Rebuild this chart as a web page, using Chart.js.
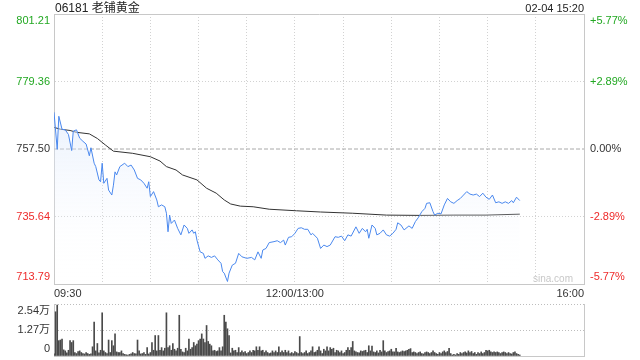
<!DOCTYPE html>
<html><head><meta charset="utf-8">
<script src="https://cdn.jsdelivr.net/npm/chart.js@4.4.1/dist/chart.umd.min.js"></script>
<style>
html,body{margin:0;padding:0;background:#fff;width:640px;height:360px;overflow:hidden;}
#wrap{position:relative;width:640px;height:360px;font-family:"Liberation Sans",Arial,"Noto Sans CJK SC",sans-serif;}
#c1{position:absolute;left:0;top:0;}
#c2{position:absolute;left:0;top:296px;}
.t{position:absolute;white-space:nowrap;color:#222;line-height:14px;}
</style></head><body>
<div id="wrap">
<canvas id="c1" width="640" height="300"></canvas>
<canvas id="c2" width="640" height="64"></canvas>
<div class="t" style="left:55px;top:1px;font-size:12px;">06181 老铺黄金</div>
<div class="t" style="right:56px;top:1px;font-size:11px;">02-04 15:20</div>
<div class="t" style="left:533px;top:272px;font-size:10px;color:#c8c8c8;">sina.com</div>
</div>
<script>
// ---- data ----
const preClose = 757.50;
const yMin = 713.79, yMax = 801.21;
const yTickValues = [713.79, 735.64, 757.50, 779.36, 801.21];
const yTickLabels = ['713.79', '735.64', '757.50', '779.36', '801.21'];
const pctTickLabels = ['-5.77%', '-2.89%', '0.00%', '+2.89%', '+5.77%'];
const tickColors = ['#ee2a2a', '#ee2a2a', '#333333', '#22a822', '#22a822'];

const xGridMinutes = [0, 30, 60, 90, 120, 150, 180, 210, 240, 270, 300, 330];
const xLabelMinutes = [0, 150, 330];
const xLabelTexts = ['09:30', '12:00/13:00', '16:00'];

const priceMinutes = [0,2,3,5,7,9,11,12,14,16,18,20,22,23,25,26,28,29,30,31,33,34,36,37,38,39,41,44,46,48,50,52,54,56,58,59,60,62,64,65,67,69,70,71,72,73,75,77,79,81,83,84,86,87,88,89,91,93,94,96,98,100,102,104,105,106,108,109,111,113,115,117,120,123,125,127,129,130,132,134,137,139,141,143,144,146,148,150,152,154,156,158,160,161,164,166,168,170,172,175,177,179,181,183,185,188,190,192,194,195,196,198,200,201,203,205,207,209,211,213,214,216,218,221,223,225,227,229,231,232,234,236,237,239,241,243,245,247,249,251,253,255,257,259,261,263,265,267,269,271,273,275,277,279,281,283,285,286,288,290];
const priceValues = [769.4,757.4,768.1,763.9,763.7,762.2,757.0,763.3,763.7,761.0,760.0,759.1,755.3,757.9,752.9,751.8,747.5,746.9,752.9,746.4,748.0,744.2,742.6,745.8,750.1,749.1,751.8,752.9,751.8,752.3,750.7,748.0,747.5,746.4,744.8,746.9,742.1,743.7,741.0,738.8,739.4,738.8,736.7,730.7,736.1,733.4,734.5,731.8,729.7,732.9,731.8,730.2,731.3,730.2,730.7,728.0,724.2,723.7,722.1,722.9,722.4,722.9,721.6,720.5,717.8,717.3,714.6,717.3,719.9,720.5,723.7,722.6,722.1,722.4,721.6,724.2,722.1,724.8,725.3,727.2,727.5,727.8,727.2,728.0,726.4,728.9,729.1,730.2,731.8,732.0,731.5,731.5,729.7,730.2,728.6,725.3,726.4,725.9,726.4,729.1,728.9,729.3,727.8,729.7,729.3,732.3,730.2,731.8,730.7,731.5,728.6,732.9,731.8,729.7,730.2,731.3,729.7,729.3,730.2,731.5,733.6,732.9,731.3,732.6,731.8,734.0,735.4,737.2,738.3,739.9,740.1,737.2,736.1,736.7,736.5,739.4,741.5,740.4,739.9,740.8,741.5,742.6,743.7,742.9,742.6,742.9,742.1,743.2,741.9,741.2,742.6,740.1,740.4,739.9,740.4,739.9,740.8,740.1,741.9,740.8];

const avgMinutes = [0,4,10,14,22,27,32,37,49,60,66,70,76,80,89,95,101,106,110,116,124,134,151,166,186,207,228,249,269,290];
const avgValues = [764.5,763.9,763.5,762.9,762.4,760.9,758.8,756.8,756.1,755.0,753.6,751.8,750.7,749.1,747.5,744.8,743.2,741.0,739.7,739.0,738.8,738.0,737.5,737.1,736.7,736.1,736.0,736.1,736.1,736.4];

// volume per minute, in 万
const volMax = 2.54;
const volTickValues = [0, 1.27, 2.54];
const volTickLabels = ['0', '1.27万', '2.54万'];
const volValues = [
0.10,2.16,2.49,0.75,0.78,0.83,0.30,0.25,0.15,0.28,0.75,0.66,0.75,0.17,0.12,0.22,0.25,0.17,0.12,0.10,
0.17,0.12,0.08,0.10,0.45,1.66,0.25,0.61,0.15,0.28,2.11,0.25,0.17,0.12,0.78,0.17,0.75,0.50,1.08,0.20,
0.17,0.17,0.25,0.12,0.08,0.06,0.05,0.08,0.10,0.17,0.12,0.10,0.78,0.25,0.10,0.12,0.17,0.08,0.41,0.10,
0.17,0.66,0.28,1.00,0.25,1.00,0.28,0.41,0.25,0.38,2.11,0.41,0.50,0.28,0.61,0.33,0.25,0.38,1.99,0.33,
0.20,0.17,0.38,0.25,0.83,0.33,0.41,0.66,0.50,0.58,0.75,0.83,1.08,0.83,0.66,1.49,0.71,0.58,0.50,0.25,
0.28,0.22,0.25,0.41,0.25,0.45,1.99,1.66,1.33,1.00,0.15,0.38,0.25,0.28,0.17,0.41,0.17,0.25,0.17,0.22,
0.12,0.17,0.25,0.17,0.28,0.25,0.45,0.28,0.45,0.25,0.28,0.17,0.25,0.17,0.12,0.15,0.25,0.17,0.25,0.17,
0.45,0.17,0.25,0.17,0.28,0.17,0.25,0.12,0.17,0.12,0.22,0.17,0.12,0.95,0.17,0.12,0.17,0.25,0.12,0.17,
0.25,0.45,0.17,0.20,0.28,0.45,0.25,0.12,0.33,0.25,0.45,0.25,0.41,0.33,0.38,0.17,0.28,0.25,0.17,0.25,
0.12,0.17,0.28,0.41,0.28,0.41,0.71,0.25,0.20,0.17,0.15,0.25,0.22,0.25,0.28,0.17,0.50,0.25,0.48,0.20,
0.17,0.25,0.15,0.28,0.20,0.75,0.25,0.17,0.22,0.25,0.33,0.20,0.20,0.38,0.20,0.17,0.20,0.25,0.22,0.25,
0.28,0.33,0.36,0.17,0.20,0.17,0.12,0.17,0.20,0.12,0.10,0.17,0.20,0.17,0.12,0.17,0.25,0.17,0.12,0.08,
0.17,0.12,0.20,0.25,0.17,0.22,0.38,0.12,0.05,0.08,0.05,0.12,0.08,0.17,0.12,0.17,0.20,0.15,0.25,0.17,
0.22,0.12,0.17,0.08,0.17,0.12,0.20,0.12,0.17,0.28,0.25,0.28,0.20,0.17,0.20,0.17,0.20,0.17,0.12,0.17,
0.20,0.17,0.12,0.17,0.12,0.10,0.17,0.20,0.12,0.08,0.05
];

// ---- charts ----
const FAM = '"Liberation Sans", Arial, "Noto Sans CJK SC", sans-serif';
const GRID = '#d2d2d2';
const BORDER = '#c8c8c8';
const n = yTickValues.length;
const edgeLabel = (arr, i, len) => i === 0 ? [arr[i], ''] : (i === len - 1 ? ['', arr[i]] : arr[i]);
const noPad = s => { s.paddingTop = 0; s.paddingBottom = 0; s.paddingLeft = 0; s.paddingRight = 0; };

new Chart(document.getElementById('c1'), {
  type: 'line',
  data: { datasets: [
    { data: priceMinutes.map((m, i) => ({ x: m, y: priceValues[i] })),
      borderColor: '#4a88ee', borderWidth: 1, pointRadius: 0, tension: 0, fill: 'start',
      backgroundColor: (c) => {
        const ca = c.chart.chartArea;
        if (!ca) return 'rgba(220,232,252,0.5)';
        const g = c.chart.ctx.createLinearGradient(0, ca.top, 0, ca.bottom);
        g.addColorStop(0, 'rgba(190,212,248,0.8)');
        g.addColorStop(1, 'rgba(255,255,255,0)');
        return g;
      } },
    { data: avgMinutes.map((m, i) => ({ x: m, y: avgValues[i] })),
      borderColor: '#333333', borderWidth: 1, pointRadius: 0, tension: 0, fill: false },
    { data: [{ x: 0, y: preClose }, { x: 330, y: preClose }],
      borderColor: '#a8a8a8', borderWidth: 1, borderDash: [4, 2], pointRadius: 0, fill: false }
  ]},
  options: {
    responsive: false, animation: false, devicePixelRatio: 1,
    layout: { padding: { top: 14, left: 0, right: 0, bottom: 0 } },
    plugins: { legend: { display: false }, tooltip: { enabled: false } },
    scales: {
      x: { type: 'linear', position: 'bottom', min: 0, max: 330,
        afterBuildTicks: s => { s.ticks = xGridMinutes.map(v => ({ value: v })); },
        afterFit: s => { s.height = 16; noPad(s); },
        ticks: { autoSkip: false, maxRotation: 0, align: 'inner', padding: 3, color: '#333',
          font: { size: 11, family: FAM },
          callback: (v) => { const k = xLabelMinutes.indexOf(v); return k >= 0 ? xLabelTexts[k] : ''; } },
        grid: { drawTicks: false, color: c => (c.tick && (c.tick.value === 0 || c.tick.value === 330)) ? 'rgba(0,0,0,0)' : GRID },
        border: { display: true, color: BORDER, dash: [1, 2] } },
      xTop: { type: 'linear', position: 'top', min: 0, max: 330,
        ticks: { display: false }, grid: { display: false, drawTicks: false },
        border: { display: true, color: BORDER }, afterFit: s => { s.height = 0; noPad(s); } },
      y: { type: 'linear', position: 'left', min: yMin, max: yMax,
        afterBuildTicks: s => { s.ticks = yTickValues.map(v => ({ value: v })); },
        afterFit: s => { s.width = 54; noPad(s); },
        ticks: { autoSkip: false, padding: 4, font: { size: 11, family: FAM }, color: c => tickColors[c.index],
          callback: (v, i) => edgeLabel(yTickLabels, i, n) },
        grid: { drawTicks: false, color: c => (c.index === 0 || c.index === n - 1 || c.index === 2) ? 'rgba(0,0,0,0)' : GRID },
        border: { display: true, color: BORDER, dash: [1, 2] } },
      y2: { type: 'linear', position: 'right', min: yMin, max: yMax,
        afterBuildTicks: s => { s.ticks = yTickValues.map(v => ({ value: v })); },
        afterFit: s => { s.width = 56; noPad(s); },
        ticks: { autoSkip: false, padding: 6, font: { size: 11, family: FAM }, color: c => tickColors[c.index],
          callback: (v, i) => edgeLabel(pctTickLabels, i, n) },
        grid: { drawOnChartArea: false, drawTicks: false },
        border: { display: true, color: BORDER } }
    }
  }
});

const vn = volTickValues.length;
new Chart(document.getElementById('c2'), {
  type: 'bar',
  data: { datasets: [
    { data: volValues.map((v, i) => ({ x: i, y: v })), backgroundColor: '#4a4a4a', borderWidth: 0, barThickness: 1 }
  ]},
  options: {
    responsive: false, animation: false, devicePixelRatio: 1,
    layout: { padding: { top: 8, left: 0, right: 0, bottom: 0 } },
    plugins: { legend: { display: false }, tooltip: { enabled: false } },
    scales: {
      x: { type: 'linear', min: 0, max: 330, offset: false,
        ticks: { display: false }, grid: { display: false, drawTicks: false },
        border: { display: true, color: BORDER }, afterFit: s => { s.height = 4; noPad(s); } },
      y: { type: 'linear', position: 'left', min: 0, max: volMax,
        afterBuildTicks: s => { s.ticks = volTickValues.map(v => ({ value: v })); },
        afterFit: s => { s.width = 54; noPad(s); },
        ticks: { autoSkip: false, padding: 4, font: { size: 11, family: FAM }, color: '#333',
          callback: (v, i) => edgeLabel(volTickLabels, i, vn) },
        grid: { drawTicks: false, color: c => c.index === 0 ? 'rgba(0,0,0,0)' : '#bdbdbd' },
        border: { display: true, color: BORDER, dash: [1, 2] } },
      y2: { type: 'linear', position: 'right', min: 0, max: volMax,
        ticks: { display: false }, grid: { drawOnChartArea: false, drawTicks: false },
        afterFit: s => { s.width = 56; noPad(s); },
        border: { display: true, color: BORDER } }
    }
  }
});
</script>
</body></html>
